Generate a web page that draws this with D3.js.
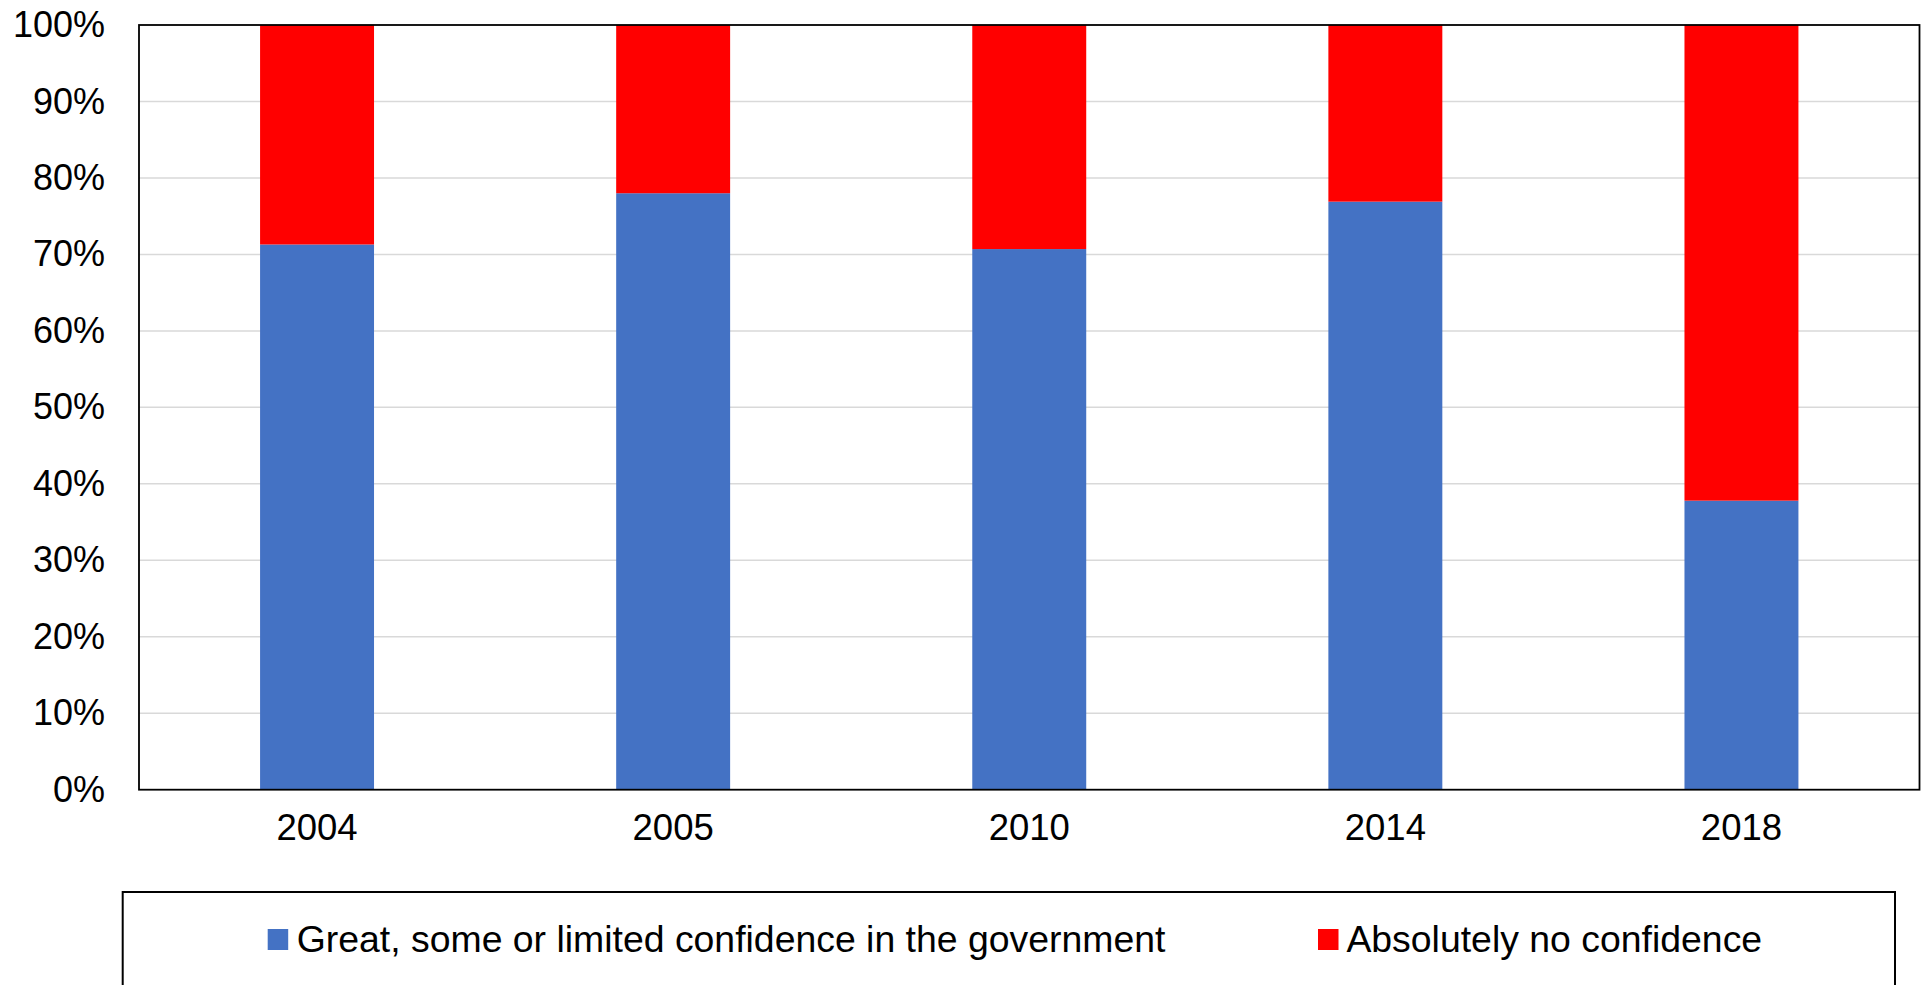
<!DOCTYPE html>
<html>
<head>
<meta charset="utf-8">
<script src="https://cdn.jsdelivr.net/npm/d3@7"></script>
<style>
  html, body { margin: 0; padding: 0; background: #fff; overflow: hidden; }
  svg { display: block; font-family: "Liberation Sans", Arial, sans-serif; }
</style>
</head>
<body>
<svg id="chart" width="1923" height="985"></svg>
<script>
const categories = ["2004", "2005", "2010", "2014", "2018"];
const confidence = [71.3, 78.0, 70.7, 76.9, 37.8];
const noConfidence = [28.7, 22.0, 29.3, 23.1, 62.2];
const seriesNames = ["Great, some or limited confidence in the government", "Absolutely no confidence"];
const seriesColors = ["#4472C4", "#FF0000"];
const yTicks = [0, 10, 20, 30, 40, 50, 60, 70, 80, 90, 100];

(function () {
const svg = d3.select("#chart");
const pLeft = 139, pRight = 1919.5, pTop = 25, pBottom = 789.7;

const x = d3.scaleBand().domain(categories).range([pLeft, pRight]).padding(0);
const y = d3.scaleLinear().domain([0, 100]).range([pBottom, pTop]);
const barW = x.bandwidth() * 0.32;

// gridlines
svg.append("g").selectAll("line").data(yTicks.filter(d => d > 0 && d < 100)).join("line")
  .attr("x1", pLeft).attr("x2", pRight)
  .attr("y1", d => y(d)).attr("y2", d => y(d))
  .attr("stroke", "#d9d9d9").attr("stroke-width", 1.5);

// stacked data
const rows = categories.map((c, i) => ({ cat: c, s0: confidence[i], s1: noConfidence[i] }));
const stack = d3.stack().keys(["s0", "s1"])(rows);

svg.append("g").selectAll("g").data(stack).join("g")
  .attr("fill", (d, i) => seriesColors[i])
  .selectAll("rect").data(d => d).join("rect")
  .attr("x", d => x(d.data.cat) + x.bandwidth() / 2 - barW / 2)
  .attr("width", barW)
  .attr("y", d => y(Math.min(d[1], 100)))
  .attr("height", d => y(d[0]) - y(Math.min(d[1], 100)));

// frame
svg.append("rect").attr("x", pLeft).attr("y", pTop)
  .attr("width", pRight - pLeft).attr("height", pBottom - pTop)
  .attr("fill", "none").attr("stroke", "#000").attr("stroke-width", 1.8);

// y axis labels
const yAxis = d3.axisLeft(y).tickValues(yTicks).tickFormat(d => d + "%").tickSize(0).tickPadding(34);
const ya = svg.append("g").attr("transform", `translate(${pLeft},0)`).call(yAxis);
ya.select(".domain").remove();
ya.selectAll("text").attr("font-size", 36).attr("fill", "#000")
  .attr("font-family", "Liberation Sans, Arial, sans-serif");

// x axis labels
const xAxis = d3.axisBottom(x).tickSize(0).tickPadding(24);
const xa = svg.append("g").attr("transform", `translate(0,${pBottom})`).call(xAxis);
xa.select(".domain").remove();
xa.selectAll("text").attr("font-size", 36.5).attr("fill", "#000")
  .attr("font-family", "Liberation Sans, Arial, sans-serif");

// legend
svg.append("rect").attr("x", 122.7).attr("y", 892).attr("width", 1895 - 122.7).attr("height", 120)
  .attr("fill", "none").attr("stroke", "#000").attr("stroke-width", 2);
const legendX = [267.7, 1318];
const lg = svg.append("g").selectAll("g").data(seriesNames).join("g")
  .attr("transform", (d, i) => `translate(${legendX[i]},0)`);
lg.append("rect").attr("x", 0).attr("y", 929).attr("width", 20.5).attr("height", 21)
  .attr("fill", (d, i) => seriesColors[i]);
lg.append("text").attr("x", (d, i) => i === 0 ? 29 : 28.4).attr("y", 951.5)
  .attr("font-size", 37.4).attr("fill", "#000").text(d => d);
})();
</script>
</body>
</html>
